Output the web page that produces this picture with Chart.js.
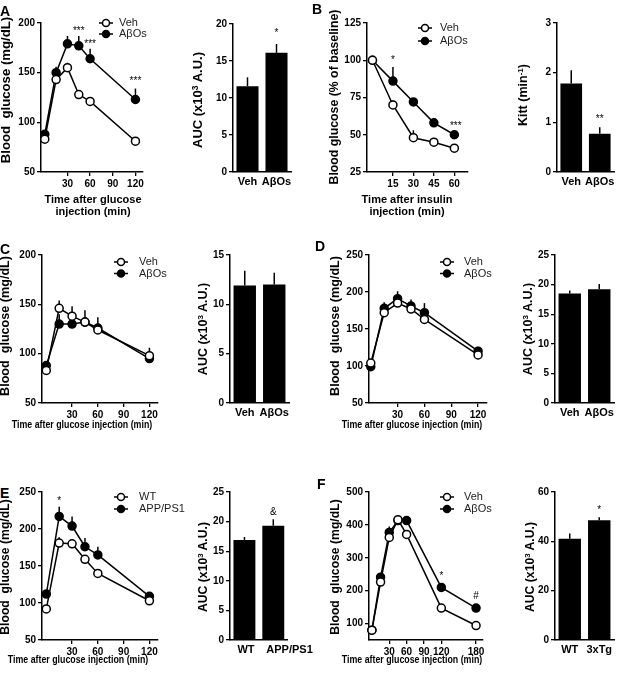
<!DOCTYPE html>
<html>
<head>
<meta charset="utf-8">
<script src="https://cdn.jsdelivr.net/npm/chart.js@4.4.0/dist/chart.umd.min.js"></script>
<style>
body{margin:0;background:#fff;}
#fig{position:relative;width:621px;height:673px;overflow:hidden;font-family:"Liberation Sans",Arial,sans-serif;}
canvas{position:absolute;}
.lbl{position:absolute;font-weight:bold;color:#000;white-space:pre;line-height:1;}
.yt{transform:translate(-50%,-50%) rotate(-90deg);}
.xt{transform:translate(-50%,-50%);text-align:center;line-height:1.1;}
.xs{transform:translate(-50%,-50%) scaleX(0.84);text-align:center;}
sup{font-size:65%;vertical-align:0.45em;line-height:0;}
</style>
</head>
<body>
<div id="fig"></div>
<script>
// tiempos (min)
const tGtt = [0, 15, 30, 45, 60, 120];
const tItt = [0, 15, 30, 45, 60];
const tGttF = [0, 15, 30, 45, 60, 120, 180];

// ticks
const xTicksGtt = [30, 60, 90, 120];
const xTicksItt = [15, 30, 45, 60];
const xTicksF = [30, 60, 90, 120, 180];
const yTicksA = [50, 100, 150, 200];
const yTicksB = [25, 50, 75, 100, 125];
const yTicksC = [50, 100, 150, 200];
const yTicksD = [50, 100, 150, 200, 250];
const yTicksE = [50, 100, 150, 200, 250];
const yTicksF = [100, 200, 300, 400, 500];
const barTicksA = [0, 5, 10, 15, 20];
const barTicksB = [0, 1, 2, 3];
const barTicksC = [0, 5, 10, 15];
const barTicksD = [0, 5, 10, 15, 20, 25];
const barTicksE = [0, 5, 10, 15, 20, 25];
const barTicksF = [0, 20, 40, 60];

// A - GTT
const vehA = [83, 143, 155, 128, 121, 81];
const vehAErr = [85, 146, 160, 131, 124, 83];
const aboA = [88, 150, 179, 177, 164, 123];
const aboAErr = [90, 156, 187, 187, 174, 134];
const starsA = [{x: 45, y: 192, t: '***'}, {x: 60, y: 179, t: '***'}, {x: 120, y: 141, t: '***'}];
const barLabelsA = ['Veh', 'AβOs'];
const aucA = [11.6, 16.1];
const aucAErr = [12.8, 17.3];
const aucAStars = [{x: 1, y: 18.7, t: '*'}];

// B - ITT
const vehB = [100, 70, 48, 45, 41];
const vehBErr = [100, 73, 53, 47, 42];
const aboB = [100, 86, 72, 58, 50];
const aboBErr = [100, 95.5, 74, 60, 51];
const starsB = [{x: 15, y: 100, t: '*'}, {x: 61, y: 56, t: '***'}];
const barLabelsB = ['Veh', 'AβOs'];
const kittB = [1.78, 0.77];
const kittBErr = [2.05, 0.9];
const kittBStars = [{x: 1, y: 1.07, t: '**'}];

// C
const vehC = [83, 146, 138, 132, 124, 98];
const vehCErr = [85, 154, 148, 134, 126, 106];
const aboC = [88, 130, 130, 132, 126, 95];
const aboCErr = [90, 140, 133, 144, 137, 97];
const barLabelsC = ['Veh', 'AβOs'];
const aucC = [11.9, 12.0];
const aucCErr = [13.4, 13.2];

// D
const vehD = [104, 172, 185, 177, 163, 115];
const vehDErr = [106, 175, 188, 180, 166, 118];
const aboD = [99, 178, 191, 181, 172, 120];
const aboDErr = [101, 186, 201, 190, 185, 126];
const barLabelsD = ['Veh', 'AβOs'];
const aucD = [18.5, 19.2];
const aucDErr = [19.0, 20.1];

// E
const wtE = [92, 181, 180, 159, 140, 103];
const wtEErr = [94, 189, 183, 161, 143, 105];
const appE = [112, 217, 204, 176, 165, 109];
const appEErr = [114, 230, 217, 188, 176, 112];
const starsE = [{x: 15, y: 238, t: '*'}];
const barLabelsE = ['WT', 'APP/PS1'];
const aucE = [16.9, 19.3];
const aucEErr = [17.4, 20.4];
const aucEStars = [{x: 1, y: 21.6, t: '&'}];

// F
const vehF = [80, 226, 362, 416, 371, 147, 94];
const vehFErr = [83, 230, 370, 425, 376, 150, 96];
const aboF = [80, 241, 377, 413, 413, 210, 147];
const aboFErr = [83, 246, 395, 422, 420, 214, 150];
const starsF = [{x: 120, y: 244, t: '*'}, {x: 180, y: 184, t: '#'}];
const barLabelsF = ['WT', '3xTg'];
const aucF = [41.0, 48.5];
const aucFErr = [43.2, 49.8];
const aucFStars = [{x: 1, y: 52.5, t: '*'}];

Chart.defaults.font.family = '"Liberation Sans", Arial, sans-serif';
Chart.defaults.color = '#000';

const YW = 32, XH = 22, PT = 14, PR = 14, PR_LINE = 30;
const fig = document.getElementById('fig');

// barras de error (solo hacia arriba)
const errBars = {
    id: 'errBars',
    afterDatasetsDraw(chart) {
        const ctx = chart.ctx;
        const ys = chart.scales.y;
        chart.data.datasets.forEach((ds, i) => {
            if (!ds.errHi) return;
            const meta = chart.getDatasetMeta(i);
            meta.data.forEach((el, j) => {
                const top = ys.getPixelForValue(ds.errHi[j]);
                const start = meta.type === 'bar' ? el.y : el.y - (ds.pointRadius || 0);
                if (top >= start) return;
                ctx.save();
                ctx.strokeStyle = '#000';
                ctx.lineWidth = 1.5;
                ctx.beginPath();
                ctx.moveTo(el.x, start);
                ctx.lineTo(el.x, top);
                ctx.stroke();
                ctx.restore();
            });
        });
    }
};

// asteriscos de significancia
const marks = {
    id: 'marks',
    afterDatasetsDraw(chart, args, opts) {
        if (!opts.items) return;
        const ctx = chart.ctx;
        ctx.save();
        ctx.font = '10px "Liberation Sans"';
        ctx.fillStyle = '#000';
        ctx.textAlign = 'center';
        ctx.textBaseline = 'middle';
        opts.items.forEach(m => {
            ctx.fillText(m.t, chart.scales.x.getPixelForValue(m.x), chart.scales.y.getPixelForValue(m.y));
        });
        ctx.restore();
    }
};

// leyenda estilo Prism
const keyBox = {
    id: 'keyBox',
    afterDraw(chart, args, opts) {
        if (opts.x == null) return;
        const ctx = chart.ctx;
        chart.data.datasets.forEach((ds, i) => {
            const x = opts.x, y = opts.y + i * opts.dy;
            ctx.save();
            ctx.strokeStyle = '#000';
            ctx.lineWidth = 1.5;
            ctx.beginPath();
            ctx.moveTo(x - 7, y);
            ctx.lineTo(x + 7, y);
            ctx.stroke();
            ctx.beginPath();
            ctx.arc(x, y, 3.5, 0, Math.PI * 2);
            ctx.fillStyle = ds.pointBackgroundColor;
            ctx.fill();
            ctx.stroke();
            ctx.fillStyle = '#222';
            ctx.font = '11px "Liberation Sans"';
            ctx.textBaseline = 'middle';
            ctx.fillText(ds.label, x + opts.tx, y);
            ctx.restore();
        });
    }
};

Chart.register(errBars, marks, keyBox);

function addCanvas(box, pr) {
    const c = document.createElement('canvas');
    const left = box.l - YW, top = box.t - PT;
    c.width = box.r - box.l + YW + pr;
    c.height = box.b - box.t + PT + XH;
    c.style.left = left + 'px';
    c.style.top = top + 'px';
    fig.appendChild(c);
    return {c, left, top};
}

function yAxis(min, max, ticks) {
    return {
        min: min, max: max,
        afterBuildTicks: s => { s.ticks = ticks.map(v => ({value: v})); },
        afterFit: s => { s.width = YW; },
        grid: {drawOnChartArea: false, drawTicks: true, tickLength: 4, color: '#000', lineWidth: 1.3},
        border: {color: '#000', width: 1.5},
        ticks: {color: '#000', font: {size: 10, weight: 'bold'}, padding: 2}
    };
}

function lineChart(box, times, series, errs, names, xTicks, yTicks, stars, key) {
    const {c, left, top} = addCanvas(box, PR_LINE);
    const datasets = series.map((vals, i) => ({
        label: names[i],
        data: times.map((t, j) => ({x: t, y: vals[j]})),
        errHi: errs[i],
        borderColor: '#000',
        borderWidth: 1.5,
        pointRadius: 4,
        pointBorderWidth: 1.5,
        pointBorderColor: '#000',
        pointBackgroundColor: i === 0 ? '#fff' : '#000',
        backgroundColor: i === 0 ? '#fff' : '#000',
        clip: false
    }));
    new Chart(c, {
        type: 'line',
        data: {datasets: datasets},
        options: {
            responsive: false,
            animation: false,
            layout: {padding: {top: PT, right: PR_LINE, left: 0, bottom: 0}},
            plugins: {
                legend: {display: false},
                tooltip: {enabled: false},
                marks: {items: stars},
                keyBox: {x: key.x - left, y: key.y - top, dy: key.dy, tx: key.tx}
            },
            scales: {
                x: {
                    type: 'linear', min: box.xmin, max: box.xmax,
                    afterBuildTicks: s => { s.ticks = xTicks.map(v => ({value: v})); },
                    afterFit: s => { s.height = XH; },
                    grid: {drawOnChartArea: false, drawTicks: true, tickLength: 4, color: '#000', lineWidth: 1.3},
                    border: {color: '#000', width: 1.5},
                    ticks: {color: '#000', font: {size: 10, weight: 'bold'}, padding: 2, maxRotation: 0}
                },
                y: yAxis(box.ymin, box.ymax, yTicks)
            }
        }
    });
}

function barChart(box, labels, vals, errs, yTicks, stars, lab) {
    lab = lab || {align: 'center', shift: 0, pr: PR};
    const {c} = addCanvas(box, lab.pr);
    new Chart(c, {
        type: 'bar',
        data: {
            labels: labels,
            datasets: [{
                data: vals,
                errHi: errs,
                backgroundColor: '#000',
                borderWidth: 0,
                barPercentage: 0.76,
                categoryPercentage: 1
            }]
        },
        options: {
            responsive: false,
            animation: false,
            layout: {padding: {top: PT, right: lab.pr, left: 0, bottom: 0}},
            plugins: {
                legend: {display: false},
                tooltip: {enabled: false},
                marks: {items: stars || []}
            },
            scales: {
                x: {
                    type: 'category',
                    afterFit: s => { s.height = XH; },
                    grid: {display: false, drawTicks: false},
                    border: {color: '#000', width: 1.5},
                    ticks: {color: '#000', font: {size: 11, weight: 'bold'}, padding: 3, maxRotation: 0, autoSkip: false,
                        align: lab.align, labelOffset: lab.shift}
                },
                y: yAxis(0, yTicks[yTicks.length - 1], yTicks)
            }
        }
    });
}

function addText(html, cls, x, y, size) {
    const d = document.createElement('div');
    d.className = 'lbl ' + cls;
    d.innerHTML = html;
    d.style.left = x + 'px';
    d.style.top = y + 'px';
    d.style.fontSize = size + 'px';
    fig.appendChild(d);
}

// Panel A
lineChart({l: 41, t: 23, r: 143, b: 172, xmin: -5, xmax: 130, ymin: 50, ymax: 200},
    tGtt, [vehA, aboA], [vehAErr, aboAErr], ['Veh', 'AβOs'], xTicksGtt, yTicksA, starsA, {x: 106, y: 23, dy: 11, tx: 13});
barChart({l: 233, t: 24, r: 291, b: 172}, barLabelsA, aucA, aucAErr, barTicksA, aucAStars);

// Panel B
lineChart({l: 367, t: 23, r: 468, b: 172, xmin: -4, xmax: 70, ymin: 25, ymax: 125},
    tItt, [vehB, aboB], [vehBErr, aboBErr], ['Veh', 'AβOs'], xTicksItt, yTicksB, starsB, {x: 425, y: 28, dy: 13, tx: 15});
barChart({l: 557, t: 23, r: 614, b: 172}, barLabelsB, kittB, kittBErr, barTicksB, kittBStars);

// Panel C
lineChart({l: 42, t: 255, r: 158, b: 403, xmin: -5, xmax: 130, ymin: 50, ymax: 200},
    tGtt, [vehC, aboC], [vehCErr, aboCErr], ['Veh', 'AβOs'], xTicksGtt, yTicksC, [], {x: 121, y: 262, dy: 11.5, tx: 18});
barChart({l: 230, t: 255, r: 289, b: 403}, barLabelsC, aucC, aucCErr, barTicksC, []);

// Panel D
lineChart({l: 369, t: 255, r: 487, b: 403, xmin: -2, xmax: 130, ymin: 50, ymax: 250},
    tGtt, [vehD, aboD], [vehDErr, aboDErr], ['Veh', 'AβOs'], xTicksGtt, yTicksD, [], {x: 447, y: 262, dy: 11.5, tx: 17});
barChart({l: 555, t: 255, r: 614, b: 403}, barLabelsD, aucD, aucDErr, barTicksD, []);

// Panel E
lineChart({l: 42, t: 492, r: 158, b: 640, xmin: -5, xmax: 130, ymin: 50, ymax: 250},
    tGtt, [wtE, appE], [wtEErr, appEErr], ['WT', 'APP/PS1'], xTicksGtt, yTicksE, starsE, {x: 121, y: 497, dy: 12, tx: 18});
barChart({l: 230, t: 492, r: 289, b: 640}, barLabelsE, aucE, aucEErr, barTicksE, aucEStars, {align: 'start', shift: -7, pr: 45});

// Panel F
lineChart({l: 369, t: 492, r: 483, b: 640, xmin: -5, xmax: 192, ymin: 50, ymax: 500},
    tGttF, [vehF, aboF], [vehFErr, aboFErr], ['Veh', 'AβOs'], xTicksF, yTicksF, starsF, {x: 447, y: 497, dy: 12, tx: 17});
barChart({l: 555, t: 492, r: 614, b: 640}, barLabelsF, aucF, aucFErr, barTicksF, aucFStars);

// letras de panel
addText('A', '', 0, 4, 14);
addText('B', '', 312, 2, 14);
addText('C', '', 0, 242, 14);
addText('D', '', 315, 239, 14);
addText('E', '', 0, 486, 14);
addText('F', '', 317, 477, 14);

// titulos de ejes
const auc = 'AUC (x10<sup>3</sup> A.U.)';
addText('Blood  glucose (mg/dL)', 'yt', 6, 90, 13.2);
addText(auc, 'yt', 197, 100, 13);
addText('Time after glucose\ninjection (min)', 'xt', 93, 205, 11);

addText('Blood glucose (% of baseline)', 'yt', 334, 97, 12.3);
addText('Kitt (min<sup>-1</sup>)', 'yt', 523, 95, 12.5);
addText('Time after insulin\ninjection (min)', 'xt', 407, 205, 11);

addText('Blood  glucose (mg/dL)', 'yt', 5, 326, 12.6);
addText(auc, 'yt', 203, 329, 12.5);
addText('Time after glucose injection (min)', 'xs', 82, 424, 10.5);

addText('Blood  glucose (mg/dL)', 'yt', 335, 326, 12.6);
addText(auc, 'yt', 528, 329, 12.5);
addText('Time after glucose injection (min)', 'xs', 412, 424, 10.5);

addText('Blood  glucose (mg/dL)', 'yt', 5, 567, 12.2);
addText(auc, 'yt', 203, 567, 12.2);
addText('Time after glucose injection (min)', 'xs', 78, 659, 10.5);

addText('Blood  glucose (mg/dL)', 'yt', 335, 567, 12.2);
addText(auc, 'yt', 530, 567, 12.2);
addText('Time after glucose injection (min)', 'xs', 412, 659, 10.5);
</script>
</body>
</html>
